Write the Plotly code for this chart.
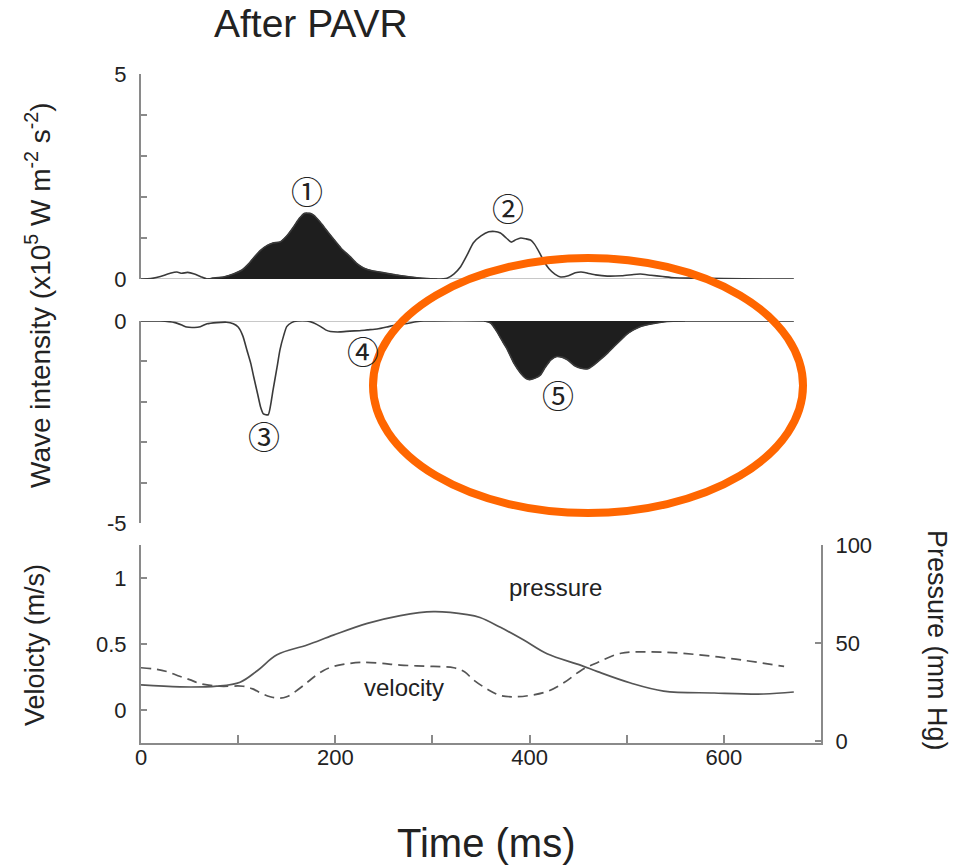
import plotly.graph_objects as go
from plotly.subplots import make_subplots

# Forward (positive) wave intensity, x10^5 W m^-2 s^-2
t_fwd = [0, 10, 20, 30, 37, 42, 48, 55, 62, 68, 74, 85, 95, 104, 110, 116, 123, 130, 136, 143,
         150, 157, 163, 168, 174, 178, 184, 190, 198, 206, 215, 222, 229, 238, 250, 262, 274, 284,
         295, 305, 315, 322, 329, 336, 342, 350, 358, 364, 370, 376, 381, 386, 391, 396, 401, 405,
         410, 415, 420, 426, 432, 440, 447, 453, 460, 468, 480, 495, 507, 514, 525, 537, 549, 570,
         600, 640, 672]
wi_fwd = [0.0, 0.01, 0.06, 0.14, 0.17, 0.14, 0.16, 0.12, 0.05, 0.0, 0.02, 0.05, 0.12, 0.22, 0.35,
          0.52, 0.7, 0.82, 0.88, 0.9, 1.05, 1.27, 1.48, 1.6, 1.6, 1.55, 1.4, 1.22, 0.98, 0.75, 0.55,
          0.38, 0.27, 0.2, 0.15, 0.1, 0.06, 0.03, 0.01, 0.0, 0.02, 0.12, 0.3, 0.6, 0.88, 1.05, 1.15,
          1.16, 1.12, 1.0, 0.9, 0.96, 1.0, 0.98, 0.95, 0.85, 0.65, 0.42, 0.25, 0.12, 0.05, 0.08,
          0.15, 0.17, 0.14, 0.1, 0.07, 0.08, 0.11, 0.12, 0.09, 0.06, 0.03, 0.02, 0.01, 0.0, 0.0]

# Backward (negative) wave intensity, x10^5 W m^-2 s^-2
t_bwd = [0, 20, 35, 42, 47, 55, 61, 68, 78, 88, 95, 100, 105, 109, 113, 116, 120, 123, 126, 131,
         134, 136, 140, 143, 147, 150, 155, 161, 171, 178, 185, 190, 195, 205, 215, 225, 233, 243,
         253, 262, 274, 283, 291, 353, 360, 366, 372, 377, 384, 391, 396, 400, 405, 411, 416, 422,
         428, 434, 439, 446, 453, 460, 466, 473, 480, 487, 494, 500, 507, 515, 528, 542, 560, 672]
wi_bwd = [0.0, 0.0, -0.04, -0.1, -0.15, -0.16, -0.14, -0.07, -0.04, -0.03, -0.07, -0.15, -0.38,
          -0.72, -1.05, -1.38, -1.8, -2.12, -2.3, -2.32, -2.0, -1.7, -1.15, -0.72, -0.35, -0.14,
          -0.04, 0.0, 0.0, -0.05, -0.14, -0.22, -0.26, -0.27, -0.25, -0.24, -0.22, -0.2, -0.15,
          -0.1, -0.06, -0.02, 0.0, 0.0, -0.05, -0.25, -0.5, -0.7, -1.05, -1.3, -1.42, -1.45, -1.42,
          -1.34, -1.15, -0.96, -0.88, -0.9, -0.96, -1.1, -1.17, -1.18, -1.09, -0.95, -0.8, -0.63,
          -0.47, -0.33, -0.22, -0.13, -0.06, -0.01, 0.0, 0.0]

# Shaded waves: (start, end) in ms
wave1_span = (68, 305)
wave5_span = (353, 560)

# Pressure (mm Hg)
t_p = [0, 40, 78, 102, 120, 140, 171, 198, 233, 267, 301, 336, 349, 370, 394, 418, 453, 470, 504,
       538, 590, 641, 672]
pressure = [28.6, 27.6, 28, 30, 36, 44, 49, 54, 60, 64, 66, 64.5, 63, 58, 51.5, 44.5, 38.6, 35.4,
            29.6, 25.5, 24.5, 24, 25]

# Velocity (m/s)
t_v = [0, 15, 27, 38, 50, 61, 81, 105, 115, 123, 133, 143, 150, 157, 168, 178, 188, 198, 212, 226,
       245, 267, 301, 322, 333, 342, 356, 370, 384, 400, 418, 436, 453, 470, 494, 521, 556, 607, 662]
velocity = [0.32, 0.31, 0.29, 0.26, 0.23, 0.2, 0.18, 0.18, 0.16, 0.13, 0.1, 0.09, 0.1, 0.13, 0.19,
            0.25, 0.3, 0.33, 0.35, 0.36, 0.355, 0.34, 0.33, 0.32, 0.29, 0.23, 0.16, 0.11, 0.1, 0.11,
            0.14, 0.21, 0.3, 0.36, 0.43, 0.44, 0.43, 0.39, 0.33]

# Wave labels: (label, time ms, intensity, panel row)
wave_labels = [("\u2460", 171, 2.17, 1), ("\u2461", 378, 1.76, 1), ("\u2462", 127, -2.82, 2),
               ("\u2463", 229, -0.72, 2), ("\u2464", 429, -1.81, 2)]

x_ticks = [0, 100, 200, 300, 400, 500, 600]
x_ticktext = ["0", "", "200", "", "400", "", "600"]

FONT = "Liberation Sans, Arial, sans-serif"
TXT = "#222222"
AX = "#8a8a8a"
LINE = "#3a3a3a"
FILL = "#1e1e1e"


def segment(ts, vs, span):
    pts = [(t, v) for t, v in zip(ts, vs) if span[0] <= t <= span[1]]
    return [p[0] for p in pts], [p[1] for p in pts]


fig = make_subplots(rows=3, cols=1, specs=[[{}], [{}], [{"secondary_y": True}]])

# Upper panel: forward waves
fig.add_trace(go.Scatter(x=[t_fwd[0], t_fwd[-1]], y=[0, 0], mode="lines",
                         line=dict(color="#c8c8c8", width=2), hoverinfo="skip",
                         cliponaxis=False), row=1, col=1)
sx, sy = segment(t_fwd, wi_fwd, wave1_span)
fig.add_trace(go.Scatter(x=sx, y=sy, mode="lines", fill="tozeroy", fillcolor=FILL,
                         line=dict(color=FILL, width=1, shape="spline", smoothing=0.5),
                         cliponaxis=False), row=1, col=1)
fig.add_trace(go.Scatter(x=t_fwd, y=wi_fwd, mode="lines",
                         line=dict(color=LINE, width=1.6, shape="spline", smoothing=0.5),
                         cliponaxis=False), row=1, col=1)

# Middle panel: backward waves
fig.add_trace(go.Scatter(x=[t_bwd[0], t_bwd[-1]], y=[0, 0], mode="lines",
                         line=dict(color="#c8c8c8", width=2), hoverinfo="skip",
                         cliponaxis=False), row=2, col=1)
sx, sy = segment(t_bwd, wi_bwd, wave5_span)
fig.add_trace(go.Scatter(x=sx, y=sy, mode="lines", fill="tozeroy", fillcolor=FILL,
                         line=dict(color=FILL, width=1, shape="spline", smoothing=0.5),
                         cliponaxis=False), row=2, col=1)
fig.add_trace(go.Scatter(x=t_bwd, y=wi_bwd, mode="lines",
                         line=dict(color=LINE, width=1.6, shape="spline", smoothing=0.5),
                         cliponaxis=False), row=2, col=1)

# Bottom panel: velocity (left axis) and pressure (right axis)
fig.add_trace(go.Scatter(x=t_v, y=velocity, mode="lines",
                         line=dict(color="#555555", width=1.7, dash="10px,6px", shape="spline")),
              row=3, col=1, secondary_y=False)
fig.add_trace(go.Scatter(x=t_p, y=pressure, mode="lines",
                         line=dict(color="#555555", width=1.7, shape="spline")),
              row=3, col=1, secondary_y=True)

common_y = dict(showgrid=False, zeroline=False, showline=True, linecolor=AX, linewidth=2,
                ticks="inside", ticklen=6, tickwidth=1.5, tickcolor=AX,
                tickfont=dict(size=22, color=TXT, family=FONT), ticklabelstandoff=8)

fig.update_layout(
    width=953, height=868,
    margin=dict(l=141, r=132, t=74, b=125),
    paper_bgcolor="white", plot_bgcolor="white",
    showlegend=False,
    font=dict(family=FONT, color=TXT),
    xaxis=dict(domain=[0, 1], range=[0, 700], visible=False),
    xaxis2=dict(domain=[0, 1], range=[0, 700], visible=False),
    xaxis3=dict(domain=[0, 1], range=[0, 700], showgrid=False, zeroline=False, showline=True,
                linecolor=AX, linewidth=2, ticks="inside", ticklen=8, tickwidth=1.5,
                tickcolor=AX, tickvals=x_ticks, ticktext=x_ticktext,
                tickfont=dict(size=22, color=TXT, family=FONT), ticklabelstandoff=-6),
    yaxis=dict(domain=[0.6936, 1.0], range=[0, 5], tickvals=[0, 1, 2, 3, 4, 5],
               ticktext=["0", "", "", "", "", "5"], **common_y),
    yaxis2=dict(domain=[0.3288, 0.6308], range=[-5, 0], tickvals=[-5, -4, -3, -2, -1, 0],
                ticktext=["-5", "", "", "", "", "0"], **common_y),
    yaxis3=dict(domain=[0, 0.296], range=[-0.25, 1.25], tickvals=[0, 0.5, 1],
                ticktext=["0", "0.5", "1"], **common_y),
    yaxis4=dict(range=[-1, 100], tickvals=[0, 50, 100], ticktext=["0", "50", "100"],
                side="right", overlaying="y3", **common_y),
)

ann = []
for lab, tx, ty, row in wave_labels:
    ann.append(dict(x=tx, y=ty, xref="x" if row == 1 else "x2", yref="y" if row == 1 else "y2",
                    text=lab, showarrow=False, xanchor="center", yanchor="middle",
                    font=dict(size=32, color=TXT, family="Noto Sans CJK JP")))

ctr = dict(showarrow=False, xanchor="center", yanchor="middle")
ann += [
    dict(x=427, y=0.93, xref="x3", yref="y3", text="pressure",
         font=dict(size=24, color=TXT), **ctr),
    dict(x=271, y=0.17, xref="x3", yref="y3", text="velocity",
         font=dict(size=24, color=TXT), **ctr),
    dict(x=0.25, y=1.0755, xref="paper", yref="paper", text="After PAVR",
         font=dict(size=39, color=TXT), **ctr),
    dict(x=0.507, y=-0.1495, xref="paper", yref="paper", text="Time (ms)",
         font=dict(size=40, color=TXT), **ctr),
    dict(x=-0.1515, y=0.6697, xref="paper", yref="paper", textangle=-90,
         text="Wave intensity (x10<sup>5</sup> W m<sup>-2</sup> s<sup>-2</sup>)",
         font=dict(size=28, color=TXT), **ctr),
    dict(x=-0.156, y=0.1465, xref="paper", yref="paper", textangle=-90,
         text="Veloicty (m/s)", font=dict(size=27, color=TXT), **ctr),
    dict(x=1.1706, y=0.154, xref="paper", yref="paper", textangle=90,
         text="Pressure (mm Hg)", font=dict(size=27, color=TXT), **ctr),
]
fig.update_layout(annotations=ann)

# Highlight ring around the late backward wave
fig.add_shape(type="circle", xref="paper", yref="paper",
              x0=(373 - 141) / 680, x1=(803 - 141) / 680,
              y0=(743 - 513) / 669, y1=(743 - 258) / 669,
              line=dict(color="#FF6600", width=8), layer="above")

fig.write_html("out.html")
